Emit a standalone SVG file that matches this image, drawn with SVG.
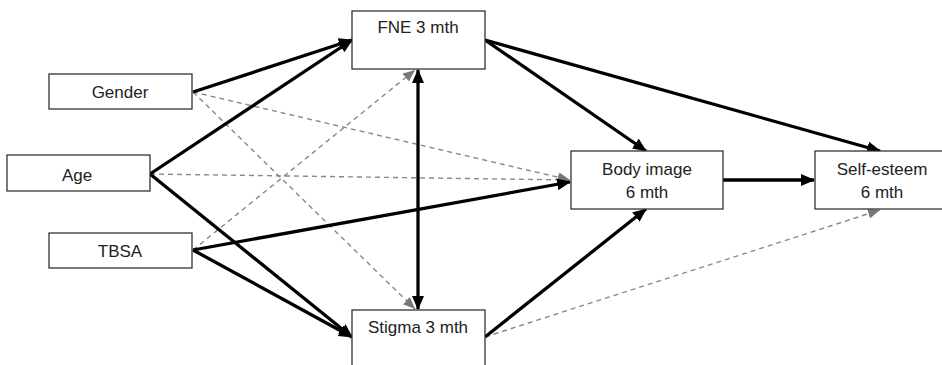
<svg xmlns="http://www.w3.org/2000/svg" width="942" height="365" viewBox="0 0 942 365">
<style>
.box{fill:#fff;stroke:#333;stroke-width:1.3}
.lbl{font-family:"Liberation Sans","Open Sans",sans-serif;font-size:17px;fill:#222;text-anchor:middle}
.thick{stroke:#000;stroke-width:3.3;fill:none}
.dash{stroke:#888;stroke-width:1.4;stroke-dasharray:5,4;fill:none}
</style>
<defs>
<marker id="ah" markerUnits="userSpaceOnUse" markerWidth="14" markerHeight="12" refX="13" refY="6" orient="auto-start-reverse" viewBox="0 0 14 12">
<path d="M0,0 L14,6 L0,12 z" fill="#000"/>
</marker>
<marker id="ag" markerUnits="userSpaceOnUse" markerWidth="12" markerHeight="10" refX="12" refY="5" orient="auto" viewBox="0 0 12 10">
<path d="M0,0 L12,5 L0,10 z" fill="#777"/>
</marker>
</defs>
<rect width="942" height="365" fill="#fff"/>
<g id="connectors">
<line class="dash" x1="193" y1="92" x2="570" y2="180" marker-end="url(#ag)"/>
<line class="dash" x1="150" y1="174" x2="570" y2="180" marker-end="url(#ag)"/>
<line class="dash" x1="193" y1="92" x2="415" y2="309" marker-end="url(#ag)"/>
<line class="dash" x1="193" y1="250" x2="415" y2="70" marker-end="url(#ag)"/>
<line class="dash" x1="485" y1="337" x2="880" y2="210" marker-end="url(#ag)"/>
<line class="thick" x1="193" y1="92" x2="352" y2="40" marker-end="url(#ah)"/>
<line class="thick" x1="150" y1="174" x2="352" y2="40" marker-end="url(#ah)"/>
<line class="thick" x1="150" y1="174" x2="352" y2="337" marker-end="url(#ah)"/>
<line class="thick" x1="193" y1="250" x2="352" y2="337" marker-end="url(#ah)"/>
<line class="thick" x1="193" y1="250" x2="570" y2="182" marker-end="url(#ah)"/>
<line class="thick" x1="418" y1="70" x2="418" y2="309" marker-start="url(#ah)" marker-end="url(#ah)"/>
<line class="thick" x1="485" y1="40" x2="646" y2="151" marker-end="url(#ah)"/>
<line class="thick" x1="485" y1="40" x2="880" y2="151" marker-end="url(#ah)"/>
<line class="thick" x1="723" y1="180" x2="814" y2="180" marker-end="url(#ah)"/>
<line class="thick" x1="485" y1="337" x2="646" y2="209" marker-end="url(#ah)"/>
</g>
<g id="fne"><rect class="box" x="352" y="11" width="133" height="58"/><text class="lbl" x="418" y="33">FNE 3 mth</text></g>
<g id="gender"><rect class="box" x="49" y="74" width="143" height="35"/><text class="lbl" x="120" y="98">Gender</text></g>
<g id="age"><rect class="box" x="7" y="155" width="143" height="36"/><text class="lbl" x="77" y="181">Age</text></g>
<g id="tbsa"><rect class="box" x="49" y="233" width="143" height="35"/><text class="lbl" x="120" y="257">TBSA</text></g>
<g id="stigma"><rect class="box" x="352" y="310" width="133" height="70"/><text class="lbl" x="418" y="333">Stigma 3 mth</text></g>
<g id="bodyimage"><rect class="box" x="571" y="151" width="152" height="58"/><text class="lbl" x="647" y="175">Body image</text><text class="lbl" x="647" y="198">6 mth</text></g>
<g id="selfesteem"><rect class="box" x="815" y="151" width="140" height="58"/><text class="lbl" x="882" y="175">Self-esteem</text><text class="lbl" x="882" y="198">6 mth</text></g>
</svg>
